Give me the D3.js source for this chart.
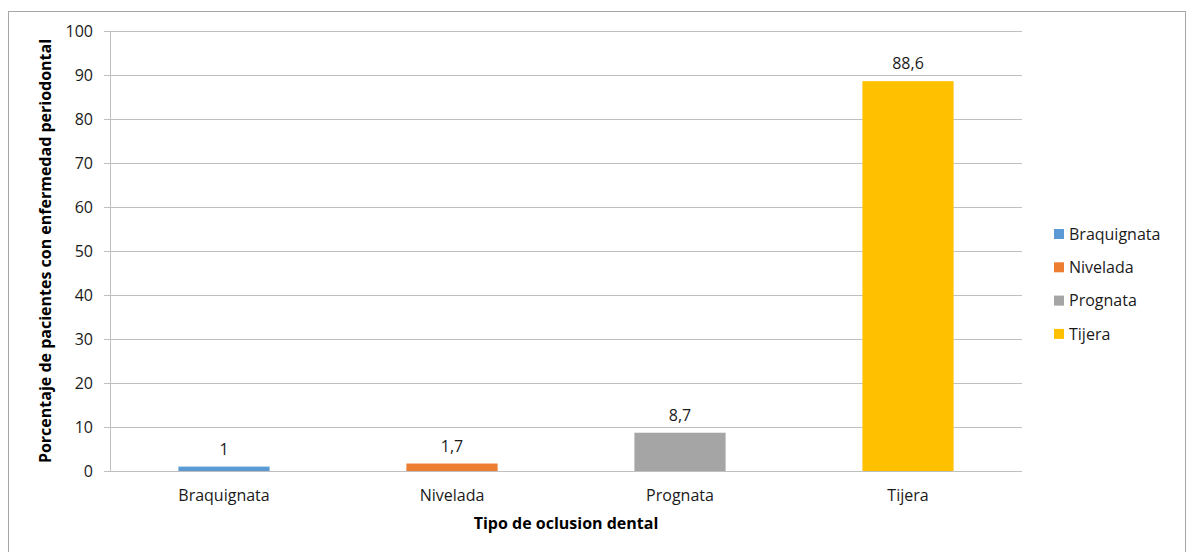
<!DOCTYPE html>
<html><head><meta charset="utf-8">
<script src="https://cdn.jsdelivr.net/npm/d3@7/dist/d3.min.js"></script>
<style>body{margin:0;background:#fff}svg{display:block}text{font-family:"Open Sans",Lato,sans-serif}</style>
</head><body>
<svg id="c" width="1188" height="552"></svg>
<script>
const categories = ["Braquignata","Nivelada","Prognata","Tijera"];
const values = [1, 1.7, 8.7, 88.6];
const valueLabels = ["1","1,7","8,7","88,6"];
const colors = ["#5B9BD5","#ED7D31","#A5A5A5","#FFC000"];
const yTicks = [0,10,20,30,40,50,60,70,80,90,100];
const yTitle = "Porcentaje de pacientes con enfermedad periodontal";
const xTitle = "Tipo de oclusion dental";

const svg = d3.select("#c");
svg.append("rect").attr("x",8.5).attr("y",11.5).attr("width",1177).attr("height",560)
  .attr("fill","#fff").attr("stroke","#a6a6a6").attr("stroke-width",1);

const L=110,R=1022,T=31,B=471;
const x = d3.scaleBand().domain(categories).range([L,R]).paddingInner(0.6).paddingOuter(0.3);
const y = d3.scaleLinear().domain([0,100]).range([B,T]);

// grid
svg.append("g").selectAll("line").data(yTicks).join("line")
  .attr("x1",L-6).attr("x2",R).attr("y1",d=>Math.round(y(d))+0.5).attr("y2",d=>Math.round(y(d))+0.5)
  .attr("stroke","#bfbfbf").attr("stroke-width",1);
svg.append("line").attr("x1",L+0.5).attr("x2",L+0.5).attr("y1",T).attr("y2",B+0.5)
  .attr("stroke","#bfbfbf");

// y tick labels
svg.append("g").selectAll("text").data(yTicks).join("text")
  .attr("x",L-17).attr("y",d=>y(d)).attr("dy","0.35em").attr("text-anchor","end")
  .attr("font-size",16).attr("fill","#1a1a1a").text(d=>d);

// bars
svg.append("g").selectAll("rect").data(values).join("rect")
  .attr("x",(d,i)=>x(categories[i])).attr("width",x.bandwidth())
  .attr("y",d=>y(d)).attr("height",d=>B-y(d)).attr("fill",(d,i)=>colors[i]);

// data labels
svg.append("g").selectAll("text").data(values).join("text")
  .attr("x",(d,i)=>x(categories[i])+x.bandwidth()/2).attr("y",d=>y(d)-12)
  .attr("text-anchor","middle").attr("font-size",16).attr("fill","#1a1a1a")
  .text((d,i)=>valueLabels[i]);

// category labels
svg.append("g").selectAll("text").data(categories).join("text")
  .attr("x",d=>x(d)+x.bandwidth()/2).attr("y",501).attr("text-anchor","middle")
  .attr("font-size",16).attr("fill","#1a1a1a").text(d=>d);

// axis titles
svg.append("text").attr("x",(L+R)/2).attr("y",529).attr("text-anchor","middle")
  .attr("font-size",16).attr("font-weight","bold").attr("fill","#000").text(xTitle);
svg.append("text").attr("transform",`translate(51,${(T+B)/2}) rotate(-90)`)
  .attr("text-anchor","middle").attr("font-size",16).attr("font-weight","bold").attr("fill","#000").text(yTitle);

// legend
const lg = svg.append("g").selectAll("g").data(categories).join("g")
  .attr("transform",(d,i)=>`translate(1054,${234+i*33.3})`);
lg.append("rect").attr("x",0).attr("y",-5).attr("width",10).attr("height",10).attr("fill",(d,i)=>colors[i]);
lg.append("text").attr("x",15).attr("y",0).attr("dy","0.35em").attr("font-size",16).attr("fill","#1a1a1a").text(d=>d);
</script>
</body></html>
